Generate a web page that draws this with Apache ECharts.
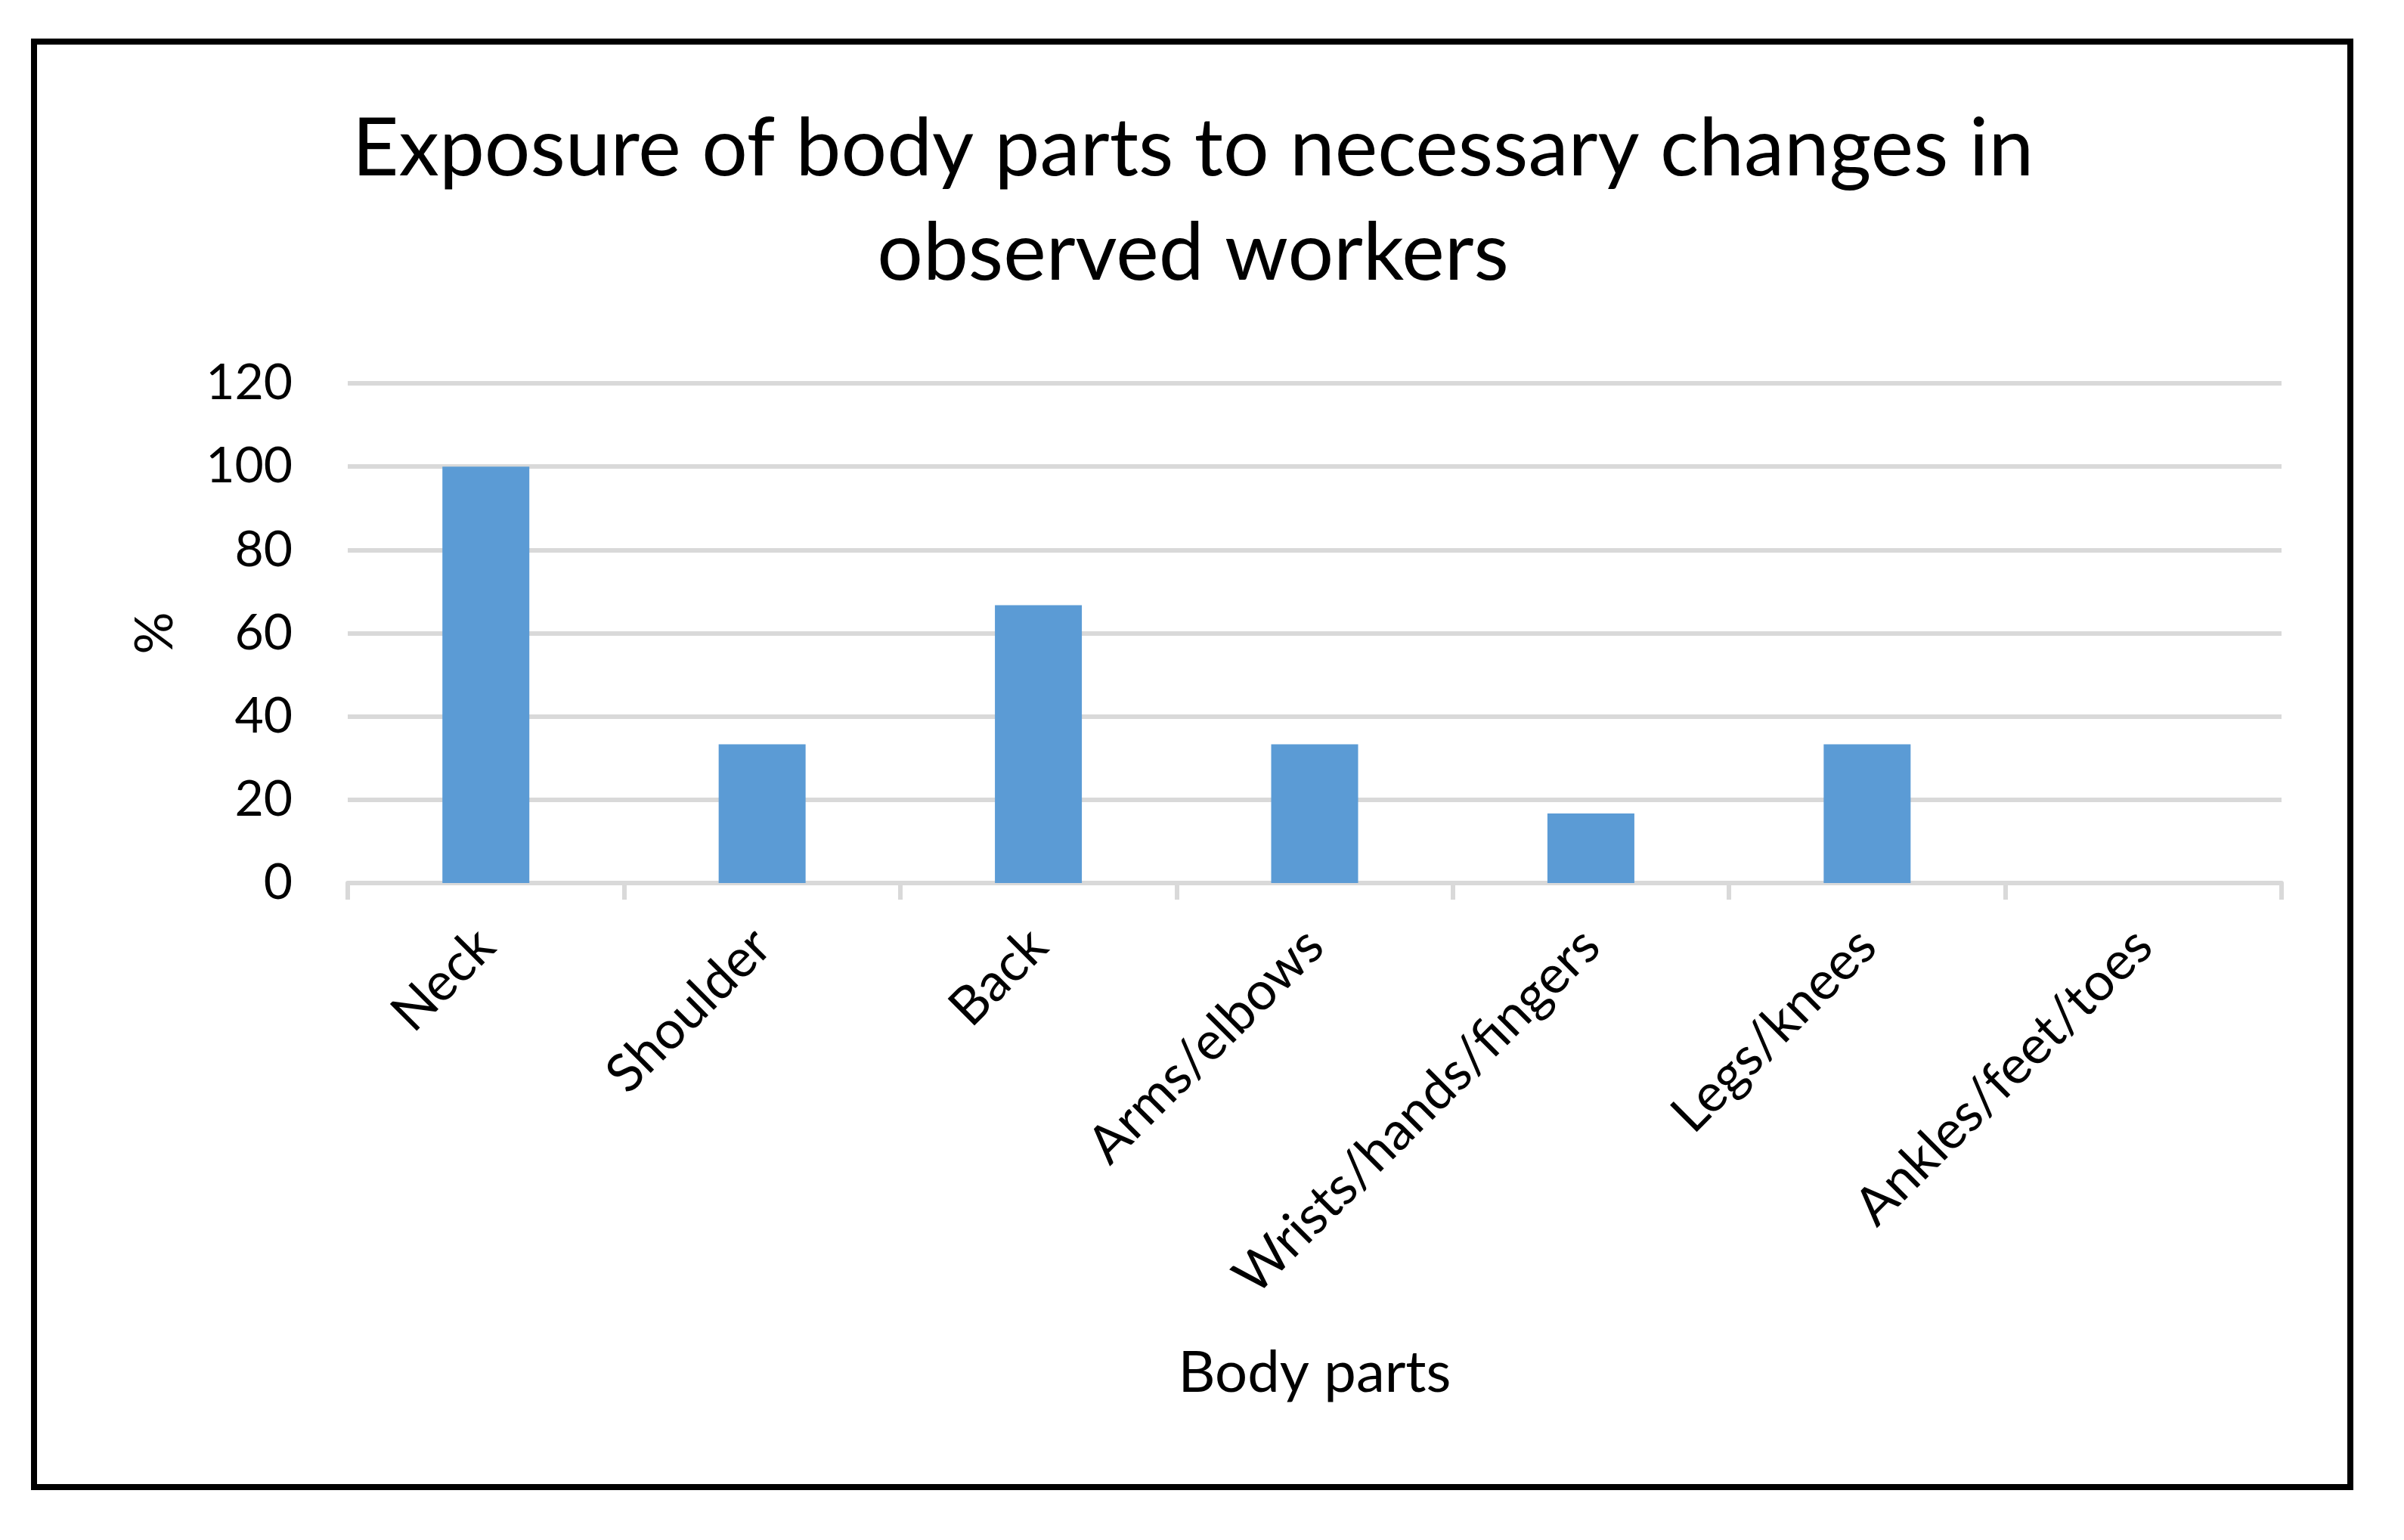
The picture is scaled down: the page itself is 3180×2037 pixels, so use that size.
<!DOCTYPE html>
<html>
<head>
<meta charset="utf-8">
<title>Exposure of body parts</title>
<script src="https://cdn.jsdelivr.net/npm/echarts@6/dist/echarts.min.js"></script>
<style>
  html, body { margin: 0; padding: 0; background: #fff; }
  #chart { width: 3180px; height: 2037px; }
</style>
</head>
<body>
<div id="chart"></div>
<script>
// Données
const bodyParts = ["Neck", "Shoulder", "Back", "Arms/elbows", "Wrists/hands/fingers", "Legs/knees", "Ankles/feet/toes"];
const exposure = [100, 33.3, 66.7, 33.3, 16.7, 33.3, 0];
const yTicks = [0, 20, 40, 60, 80, 100, 120];

const FONT = "Lato";

const chart = echarts.init(document.getElementById("chart"));

chart.setOption({
  backgroundColor: "#fff",
  animation: false,
  textStyle: { fontFamily: FONT, color: "#000" },
  title: {
    text: "Exposure of body parts to necessary changes in\nobserved workers",
    left: 1578,
    top: 128,
    textAlign: "center",
    padding: 0,
    textStyle: { fontFamily: FONT, fontSize: 107, fontWeight: "normal", color: "#000", lineHeight: 138 }
  },
  // Cadre noir autour du graphique
  graphic: [
    {
      type: "rect",
      shape: { x: 45, y: 55, width: 3064, height: 1912 },
      style: { fill: "none", stroke: "#000", lineWidth: 8 },
      silent: true
    }
  ],
  grid: { left: 460, right: 3180 - 3018, top: 507, bottom: 2037 - 1168, containLabel: false },
  xAxis: {
    type: "category",
    data: bodyParts,
    name: "Body parts",
    nameLocation: "middle",
    nameGap: 610,
    nameTextStyle: { fontFamily: FONT, fontSize: 76, color: "#000" },
    axisLine: { lineStyle: { color: "#d9d9d9", width: 6 } },
    axisTick: { show: true, length: 22, lineStyle: { color: "#d9d9d9", width: 6 } },
    axisLabel: { rotate: 45, margin: 72, fontSize: 70, fontFamily: FONT, color: "#000", interval: 0 }
  },
  yAxis: {
    type: "value",
    min: yTicks[0],
    max: yTicks[yTicks.length - 1],
    interval: 20,
    name: "%",
    nameLocation: "middle",
    nameGap: 220,
    nameTextStyle: { fontFamily: FONT, fontSize: 70, color: "#000" },
    axisLine: { show: false },
    axisTick: { show: false },
    axisLabel: { margin: 73, fontSize: 66, fontFamily: FONT, color: "#000" },
    splitLine: { lineStyle: { color: "#d9d9d9", width: 6 } }
  },
  series: [
    {
      type: "bar",
      data: exposure,
      barWidth: 115,
      itemStyle: { color: "#5b9bd5" }
    }
  ]
});
</script>
</body>
</html>
